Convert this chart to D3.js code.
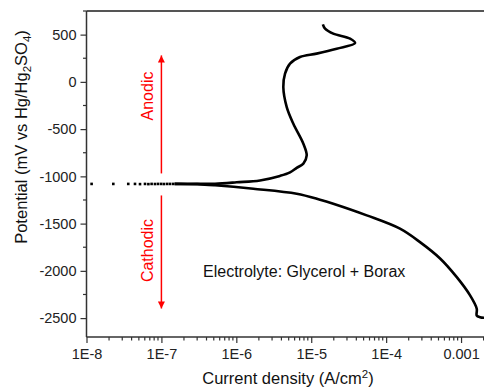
<!DOCTYPE html>
<html><head><meta charset="utf-8">
<script src="https://cdn.jsdelivr.net/npm/d3@7"></script>
<style>body{margin:0;background:#fff}svg{display:block}text{font-family:"Liberation Sans",Arial,sans-serif}</style>
</head><body><svg id="c" width="484" height="390"></svg>
<script>
// Tafel data (current density A/cm2, potential mV vs Hg/Hg2SO4)
const anodicI = [1.5e-7, 3e-7, 5.2e-7, 1.01e-6, 2.07e-6, 3.83e-6, 5.21e-6, 6.4e-6, 7.85e-6, 8.7e-6, 7.85e-6, 5.77e-6, 4.71e-6, 4.24e-6, 4.47e-6, 5.21e-6, 7.08e-6, 1.18e-5, 2.19e-5, 3.85e-5, 3.3e-5, 1.97e-5, 1.53e-5, 1.43e-5];
const anodicE = [-1080, -1080, -1078, -1063, -1043, -995, -958, -910, -865, -778, -654, -443, -267, -55, 87, 193, 263, 299, 351, 411, 457, 510, 563, 609];
const cathodicI = [1.5e-7, 3e-7, 5.2e-7, 1.69e-6, 6.4e-6, 1.31e-5, 1.97e-5, 5.51e-5, 1.53e-4, 2.83e-4, 5.25e-4, 8.77e-4, 1.32e-3, 1.62e-3, 1.62e-3, 1.79e-3, 2.03e-3];
const cathodicE = [-1080, -1082, -1094, -1131, -1184, -1247, -1290, -1413, -1554, -1696, -1869, -2067, -2260, -2401, -2472, -2490, -2496];
const dotI = [1.17e-8, 2.28e-8, 3.61e-8, 4.44e-8, 5.18e-8, 6.04e-8, 6.7e-8, 7.4e-8, 8.2e-8, 9.0e-8, 9.9e-8, 1.08e-7, 1.19e-7, 1.3e-7, 1.43e-7];
const dotE = [-1080, -1080, -1080, -1080, -1082, -1080, -1082, -1080, -1081, -1080, -1080, -1081, -1080, -1080, -1080];
const xTicks = [1e-8, 1e-7, 1e-6, 1e-5, 1e-4, 1e-3];
const xTickLabels = ["1E-8", "1E-7", "1E-6", "1E-5", "1E-4", "0.001"];
const yTicks = [500, 0, -500, -1000, -1500, -2000, -2500];
const yTickLabels = ["500", "0", "-500", "-1000", "-1500", "-2000", "-2500"];
const arrowAnodic = {i: 1e-7, from: -969, to: 280};
const arrowCathodic = {i: 1e-7, from: -1202, to: -2398};

const svg = d3.select("#c");
const L = 86.5, R = 483.6, T = 11, B = 337;
const x = d3.scaleLog().domain([1e-8, 2e-3]).range([L, R]);
const y = d3.scaleLinear().domain([-2700, 750]).range([B, T]);

svg.append("defs").append("clipPath").attr("id","clip")
  .append("rect").attr("x", L).attr("y", T).attr("width", R - L + 2).attr("height", B - T);
const mk = svg.select("defs").append("marker").attr("id","ah").attr("viewBox","0 0 10 10")
  .attr("refX", 10).attr("refY", 5).attr("markerWidth", 10).attr("markerHeight", 7)
  .attr("markerUnits","userSpaceOnUse").attr("orient","auto");
mk.append("path").attr("d","M0,0 L10,5 L0,10 Z").attr("fill","#ff0000");

// frame
const axc = "#333";
svg.append("line").attr("x1", L).attr("x2", 484).attr("y1", T).attr("y2", T).attr("stroke", "#555").attr("stroke-width", 2);

// y axis
const minorY = d3.range(-2750, 751, 250).filter(v => v % 500 !== 0 && v >= -2700 && v <= 750);
const gy = svg.append("g").attr("transform", `translate(${L},0)`);
gy.call(d3.axisLeft(y).tickValues(yTicks).tickSize(6).tickPadding(4).tickFormat((d, i) => yTickLabels[i]));
gy.selectAll(".tick text").attr("font-size", 14.5).attr("fill", "#222").attr("font-family", '"Liberation Sans",Arial,sans-serif');
gy.selectAll(".tick line").attr("stroke", axc).attr("stroke-width", 1.2);
gy.select(".domain").attr("stroke", axc).attr("stroke-width", 1.5).attr("d", `M0,${T}V${B}`);
gy.selectAll(".minor").data(minorY).enter().append("line").attr("x1", 0).attr("x2", -3.5)
  .attr("y1", d => y(d)).attr("y2", d => y(d)).attr("stroke", axc).attr("stroke-width", 1.2);

// x axis
const minorX = [];
for (let e = -8; e <= -3; e++) for (let m = 2; m <= 9; m++) { const v = m * Math.pow(10, e); if (v <= 2e-3) minorX.push(v); }
const gx = svg.append("g").attr("transform", `translate(0,${B})`);
gx.call(d3.axisBottom(x).tickValues(xTicks).tickSize(6).tickPadding(6).tickFormat((d, i) => xTickLabels[i]));
gx.selectAll(".tick text").attr("font-size", 14.5).attr("fill", "#222").attr("font-family", '"Liberation Sans",Arial,sans-serif');
gx.selectAll(".tick line").attr("stroke", axc).attr("stroke-width", 1.2);
gx.select(".domain").attr("stroke", axc).attr("stroke-width", 1.5).attr("d", `M${L},0H484`);
gx.selectAll(".minor").data(minorX).enter().append("line").attr("y1", 0).attr("y2", 3.5)
  .attr("x1", d => x(d)).attr("x2", d => x(d)).attr("stroke", axc).attr("stroke-width", 1.2);

// curves
const line = d3.line().x(d => x(d[0])).y(d => y(d[1])).curve(d3.curveCatmullRom.alpha(0.5));
const plot = svg.append("g").attr("clip-path", "url(#clip)");
plot.append("path").attr("d", line(anodicI.map((v, i) => [v, anodicE[i]])))
  .attr("fill", "none").attr("stroke", "#000").attr("stroke-width", 2.6).attr("stroke-linejoin","round");
plot.append("path").attr("d", line(cathodicI.map((v, i) => [v, cathodicE[i]])))
  .attr("fill", "none").attr("stroke", "#000").attr("stroke-width", 2.6).attr("stroke-linejoin","round");
plot.selectAll(".dot").data(dotI.map((v, i) => [v, dotE[i]])).enter().append("rect")
  .attr("x", d => x(d[0]) - 1.3).attr("y", d => y(d[1]) - 1.3).attr("width", 2.6).attr("height", 2.6).attr("fill", "#000");

// arrows
[arrowAnodic, arrowCathodic].forEach(a => {
  svg.append("line").attr("x1", x(a.i)).attr("x2", x(a.i)).attr("y1", y(a.from)).attr("y2", y(a.to))
    .attr("stroke", "#ff0000").attr("stroke-width", 1.5).attr("marker-end", "url(#ah)");
});
svg.append("text").attr("transform", `translate(153,96) rotate(-90)`).attr("text-anchor","middle")
  .attr("font-size", 16).attr("fill", "#ff0000").text("Anodic");
svg.append("text").attr("transform", `translate(153,250.5) rotate(-90)`).attr("text-anchor","middle")
  .attr("font-size", 16).attr("fill", "#ff0000").text("Cathodic");
svg.append("text").attr("x", 203).attr("y", 277).attr("font-size", 16).attr("fill", "#111")
  .text("Electrolyte: Glycerol + Borax");

// axis titles
const yt = svg.append("text").attr("transform", `translate(27,137) rotate(-90)`).attr("text-anchor","middle")
  .attr("font-size", 16.5).attr("fill", "#111");
yt.append("tspan").text("Potential (mV vs Hg/Hg");
yt.append("tspan").attr("font-size", 11.5).attr("dy", 4).text("2");
yt.append("tspan").attr("dy", -4).text("SO");
yt.append("tspan").attr("font-size", 11.5).attr("dy", 4).text("4");
yt.append("tspan").attr("dy", -4).text(")");
const xt = svg.append("text").attr("x", 288).attr("y", 384).attr("text-anchor","middle")
  .attr("font-size", 16.5).attr("fill", "#111");
xt.append("tspan").text("Current density (A/cm");
xt.append("tspan").attr("font-size", 11.5).attr("dy", -6).text("2");
xt.append("tspan").attr("dy", 6).text(")");
</script></body></html>
